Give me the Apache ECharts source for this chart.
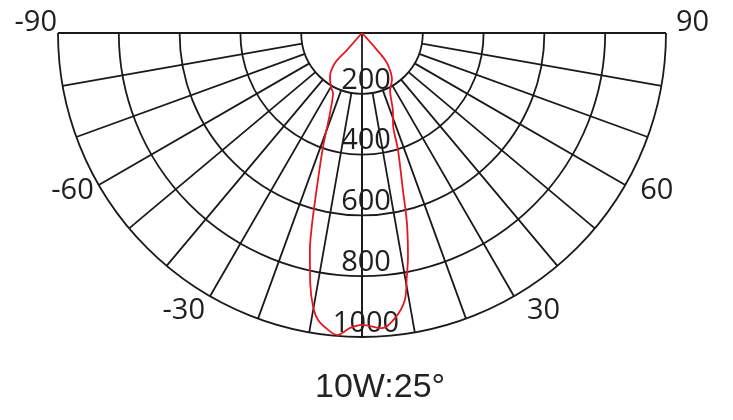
<!DOCTYPE html>
<html><head><meta charset="utf-8">
<script src="https://cdn.jsdelivr.net/npm/echarts@6/dist/echarts.min.js"></script>
<style>html,body{margin:0;padding:0;background:#fff}#c{width:733px;height:420px}</style>
</head><body><div id="c"></div>
<script>
// ---- data ----
const beamAngle = [-42, -41.4, -42, -36, -29.9, -25.8, -21.8, -20.7, -18.9, -16.3, -14.7, -13.5, -11.7, -10.1, -8.7, -6.5, -4.7, -2.3, 0, 3.9, 6.6, 9.1, 10.4, 11.6, 13.3, 14.6, 17.1, 19, 21.2, 26.2, 32.6, 39.8, 41.4, 42];
const beamIntensity = [0, 75, 133, 179, 205, 219, 283, 316, 396, 528, 646, 734, 840, 916, 955, 983, 997, 971, 960, 973, 944, 890, 816, 752, 642, 534, 403, 313, 282, 209, 183, 128, 75, 0];
const angleLabelValues = [-90, -60, -30, 30, 60, 90];
const radiusLabelValues = [200, 400, 600, 800, 1000];
const titleText = '10W:25°';

// ---- layout / style ----
const CX = 362, CY = 33, R = 304, VMAX = 1000, VINNER = 200;
const gridColor = '#1a1a1a', gridW = 1.8;
const txtColor = '#1f1f1f', fontFam = 'Open Sans', fs = 29;
const tok = (pad) => ({ fontSize: fs, fontFamily: fontFam, color: txtColor, lineHeight: 11, padding: pad });
const angleRich = {
  n90: tok([0, 1, 20, 0]),
  n60: tok([0, 5, 0, 0]),
  n30: tok([18, 5, 0, 0]),
  p30: tok([18, 0, 0, 13]),
  p60: tok([0, 0, 0, 15]),
  p90: tok([0, 0, 20, 10])
};
const keyOf = v => (v < 0 ? 'n' : 'p') + Math.abs(v);

const chart = echarts.init(document.getElementById('c'), null, { renderer: 'canvas' });
chart.setOption({
  backgroundColor: '#fff',
  animation: false,
  title: {
    text: titleText, left: 310, top: 366,
    textStyle: { fontFamily: 'Liberation Sans', fontSize: 34, fontWeight: 'normal', color: '#222' }
  },
  polar: [
    { center: [CX, CY], radius: [R * VINNER / VMAX, R] },
    { center: [CX, CY], radius: [0, R] },
    { center: [CX, CY], radius: [0, R] }
  ],
  angleAxis: [
    { polarIndex: 0, type: 'value', min: -90, max: 90, interval: 10,
      startAngle: 180, endAngle: 360, clockwise: false,
      axisLine: { show: false },
      axisTick: { show: false },
      splitLine: { show: true, lineStyle: { color: gridColor, width: gridW } },
      axisLabel: { show: true, margin: 0, rich: angleRich,
        formatter: v => angleLabelValues.includes(v) ? '{' + keyOf(v) + '|' + v + '}' : '' } },
    { polarIndex: 1, type: 'value', min: -90, max: 90, interval: 90,
      startAngle: 180, endAngle: 360, clockwise: false,
      axisLine: { show: false }, axisTick: { show: false }, axisLabel: { show: false },
      splitLine: { show: true, lineStyle: { color: gridColor, width: gridW } } },
    { polarIndex: 2, type: 'value', min: 0, max: 360, startAngle: 270, show: false }
  ],
  radiusAxis: [
    { polarIndex: 0, type: 'value', min: VINNER, max: VMAX, interval: 200,
      axisLine: { show: false }, axisTick: { show: false }, axisLabel: { show: false },
      splitLine: { show: true, lineStyle: { color: gridColor, width: gridW } } },
    { polarIndex: 1, type: 'value', min: 0, max: VMAX, interval: 200,
      axisLine: { show: false }, axisTick: { show: false }, axisLabel: { show: false },
      splitLine: { show: false } },
    { polarIndex: 2, type: 'value', min: 0, max: VMAX, interval: 200,
      axisLine: { show: false }, axisTick: { show: false }, splitLine: { show: false },
      axisLabel: { show: true, margin: 0, align: 'center', verticalAlign: 'middle',
        fontSize: fs, fontFamily: fontFam, color: txtColor, lineHeight: 27,
        padding: [0, 0, 0, 8],
        formatter: v => radiusLabelValues.includes(v) ? v + '\n ' : '' } }
  ],
  series: [{
    type: 'line', coordinateSystem: 'polar', polarIndex: 1,
    data: beamAngle.map((a, i) => [beamIntensity[i], a]),
    symbol: 'none', smooth: 0.3, z: 5,
    lineStyle: { color: '#e3191f', width: 1.8 }
  }]
});
</script></body></html>
